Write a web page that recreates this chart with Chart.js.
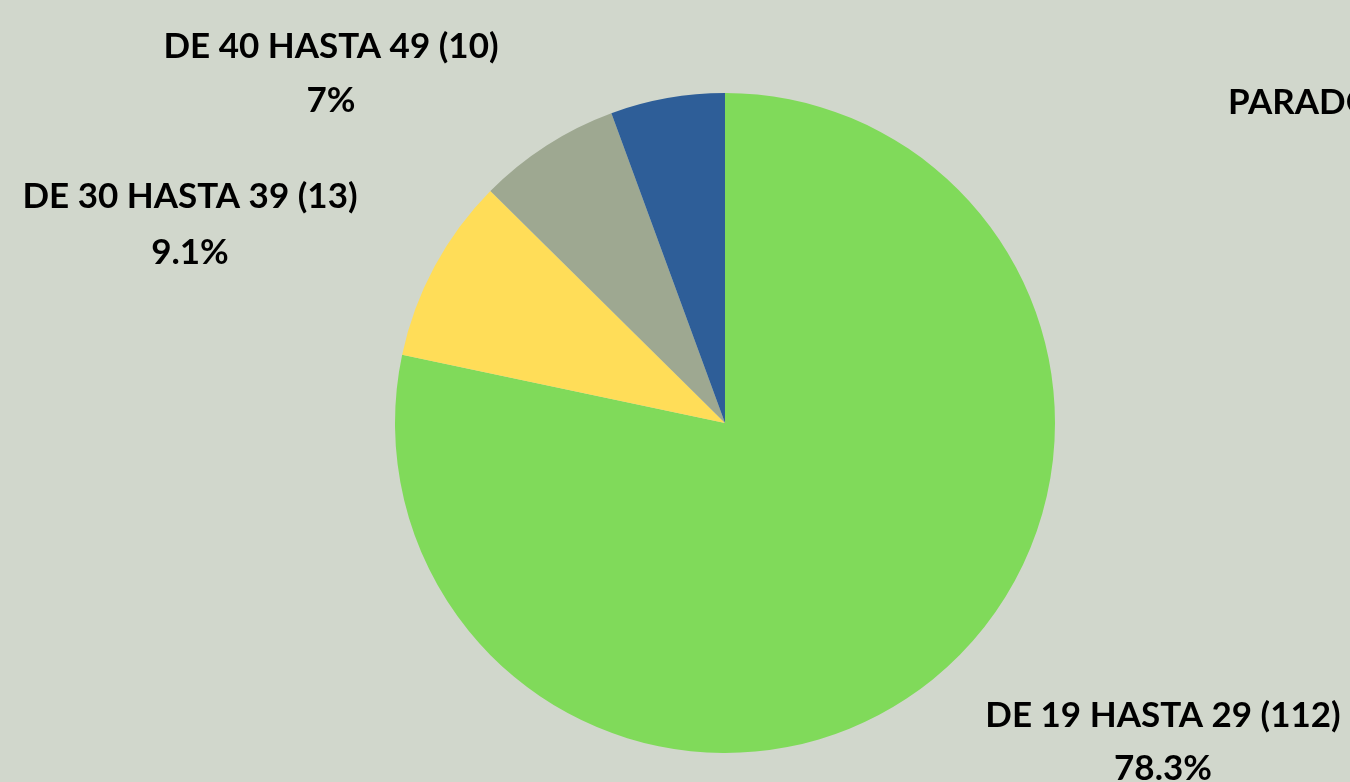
<!DOCTYPE html>
<html><head><meta charset="utf-8">
<script src="https://cdn.jsdelivr.net/npm/chart.js@4"></script>
<style>html,body{margin:0;padding:0;background:#d1d7cc;overflow:hidden}#wrap{width:1350px;height:782px;position:relative}</style>
</head><body><div id="wrap"><canvas id="c" width="1350" height="782"></canvas></div>
<script>
const categories = ["DE 19 HASTA 29", "DE 30 HASTA 39", "DE 40 HASTA 49", "PARADOS"];
const counts = [112, 13, 10, 8];
const colors = ["#80da5a", "#ffdd58", "#9ea891", "#2e5e98"];
const percentLabels = ["78.3%", "9.1%", "7%", "5.6%"];

const labelPlugin = {
  id: 'labels',
  afterDatasetsDraw(chart) {
    const ctx = chart.ctx;
    ctx.save();
    ctx.fillStyle = '#000';
    ctx.font = 'bold 35px Lato, "Open Sans", sans-serif';
    ctx.textBaseline = 'middle';
    // label anchor positions (text layout, not data marks)
    const pos = [
      {x: 1163, y1: 716, y2: 769, align: 'center'},
      {x: 190, y1: 197, y2: 253, align: 'center'},
      {x: 331, y1: 47, y2: 101, align: 'center'},
      {x: 1228, y1: 103, y2: 158, align: 'left', x2: 1480}
    ];
    categories.forEach((c, i) => {
      const p = pos[i];
      ctx.textAlign = p.align;
      ctx.fillText(c + ' (' + counts[i] + ')', p.x, p.y1);
      ctx.textAlign = 'center';
      ctx.fillText(percentLabels[i], p.x2 !== undefined ? p.x2 : p.x, p.y2);
    });
    ctx.restore();
  }
};

new Chart(document.getElementById('c'), {
  type: 'pie',
  data: {
    labels: categories,
    datasets: [{ data: counts, backgroundColor: colors, borderWidth: 0 }]
  },
  options: {
    responsive: false,
    animation: false,
    layout: { padding: { left: 395, right: 295, top: 93, bottom: 29 } },
    plugins: { legend: { display: false }, tooltip: { enabled: false } }
  },
  plugins: [labelPlugin]
});
</script></body></html>
